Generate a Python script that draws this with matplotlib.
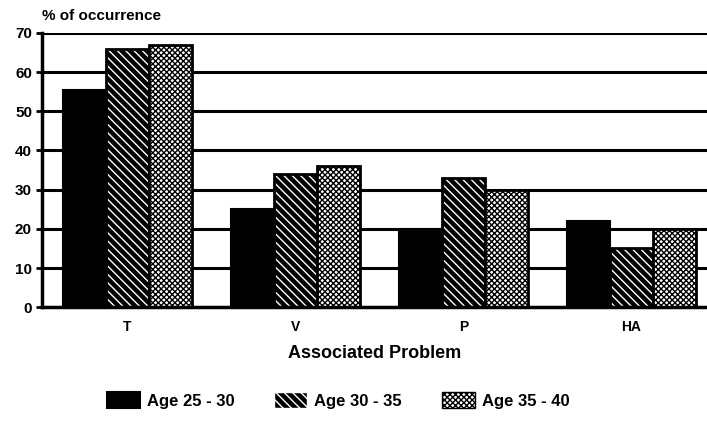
import numpy as np
import matplotlib.pyplot as plt

plt.rcParams['font.family'] = ['Liberation Sans', 'DejaVu Sans']
plt.rcParams['font.weight'] = 'bold'
plt.rcParams['hatch.linewidth'] = 1.0

# data
problems = ['T', 'V', 'P', 'HA']
age_25_30 = [55.5, 25, 20, 22]
age_30_35 = [66, 34, 33, 15]
age_35_40 = [67, 36, 30, 20]
series_labels = ['Age 25 - 30', 'Age 30 - 35', 'Age 35 - 40']

fig = plt.figure(figsize=(7.07, 4.22), dpi=100)
ax = fig.add_axes([0.059, 0.272, 0.941, 0.65])

ind = np.arange(len(problems))
width = 0.256

# gridlines behind bars
ax.set_axisbelow(True)
ax.yaxis.grid(True, color='black', linewidth=2.2)

r1 = ax.bar(ind - width, age_25_30, width, color='black', edgecolor='black', linewidth=1.5)
# hatched: white stripes on black
r2 = ax.bar(ind, age_30_35, width, color='black', edgecolor='white', hatch='\\\\\\\\', linewidth=0)
ax.bar(ind, age_30_35, width, fill=False, edgecolor='black', linewidth=2)
# stippled
r3 = ax.bar(ind + width, age_35_40, width, color='white', edgecolor='black', hatch='xxxxxx', linewidth=0)
ax.bar(ind + width, age_35_40, width, fill=False, edgecolor='black', linewidth=2)

ax.set_xlim(-0.51, 3.45)
ax.set_ylim(0, 70)
ax.set_yticks(range(0, 71, 10))
ax.set_xticks(ind)
ax.set_xticklabels(problems, fontsize=10, fontweight='bold')
plt.setp(ax.get_yticklabels(), fontsize=11, fontweight='bold')
ax.tick_params(axis='y', length=4, width=2, pad=3)
ax.tick_params(axis='x', length=0, pad=9)

for s in ['top', 'right']:
    ax.spines[s].set_visible(False)
for s in ['left', 'bottom']:
    ax.spines[s].set_linewidth(2.5)

ax.set_xlabel('Associated Problem', fontsize=13, fontweight='bold', labelpad=8)
ax.text(0.0, 1.035, '% of occurrence', transform=ax.transAxes,
        fontsize=11, fontweight='bold', ha='left', va='bottom')

# legend handles with black outline
h2 = plt.Rectangle((0, 0), 1, 1, facecolor='black', edgecolor='white', hatch='\\\\\\\\')
h3 = plt.Rectangle((0, 0), 1, 1, facecolor='white', edgecolor='black', hatch='xxxxxx')
fig.legend((r1[0], h2, h3), series_labels, loc='lower center',
           bbox_to_anchor=(0.478, -0.005), ncol=3, frameon=False,
           fontsize=12, handlelength=2.0, handleheight=1.1,
           handletextpad=0.4, columnspacing=2.4)

fig.savefig('out.png', dpi=100)
